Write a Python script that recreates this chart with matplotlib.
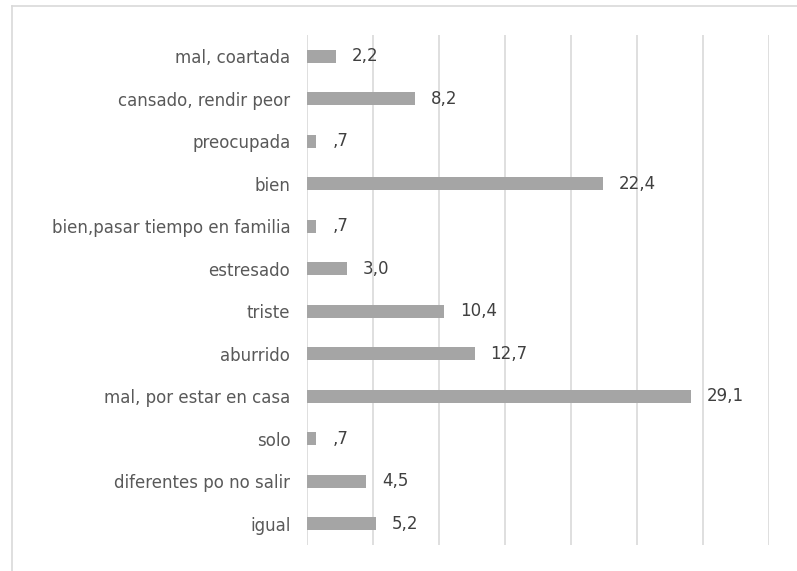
import matplotlib
matplotlib.use("Agg")
import matplotlib.pyplot as plt
from matplotlib.lines import Line2D

# categories from top to bottom
categories = ["mal, coartada", "cansado, rendir peor", "preocupada", "bien",
              "bien,pasar tiempo en familia", "estresado", "triste", "aburrido",
              "mal, por estar en casa", "solo", "diferentes po no salir", "igual"]
values = [2.2, 8.2, 0.7, 22.4, 0.7, 3.0, 10.4, 12.7, 29.1, 0.7, 4.5, 5.2]

plt.rcParams['font.family'] = ['DejaVu Sans']

fig = plt.figure(figsize=(7.97, 5.71), dpi=100)
ax = fig.add_axes([307/797, 1 - 545/571, (769 - 307)/797, (545 - 35)/571])

ypos = list(range(len(categories)))[::-1]
ax.barh(ypos, values, height=0.3, color='#A5A5A5', zorder=3)

for y, v in zip(ypos, values):
    txt = f"{v:.1f}".replace('.', ',')
    if txt.startswith('0'):
        txt = txt[1:]
    ax.annotate(txt, (v, y), xytext=(11.5, 0), textcoords='offset points',
                va='center', ha='left', fontsize=12, color='#404040', zorder=4)

ax.set_xlim(0, 35)
ax.set_ylim(-0.5, len(categories) - 0.5)
ax.set_xticks(range(0, 36, 5))
ax.set_xticklabels([])
ax.tick_params(axis='x', length=0)
ax.tick_params(axis='y', length=0, pad=12, labelsize=12, labelcolor='#595959')
ax.set_yticks(ypos)
ax.set_yticklabels(categories)
ax.grid(axis='x', color='#D9D9D9', linewidth=1.2, zorder=0)
for s in ax.spines.values():
    s.set_visible(False)

# outer chart frame (cropped on the right and bottom)
fig.add_artist(Line2D([12/797, 1], [1 - 6/571, 1 - 6/571], color='#D9D9D9', lw=1.2))
fig.add_artist(Line2D([12/797, 12/797], [0, 1 - 6/571], color='#D9D9D9', lw=1.2))

fig.savefig("out.png", dpi=100)
